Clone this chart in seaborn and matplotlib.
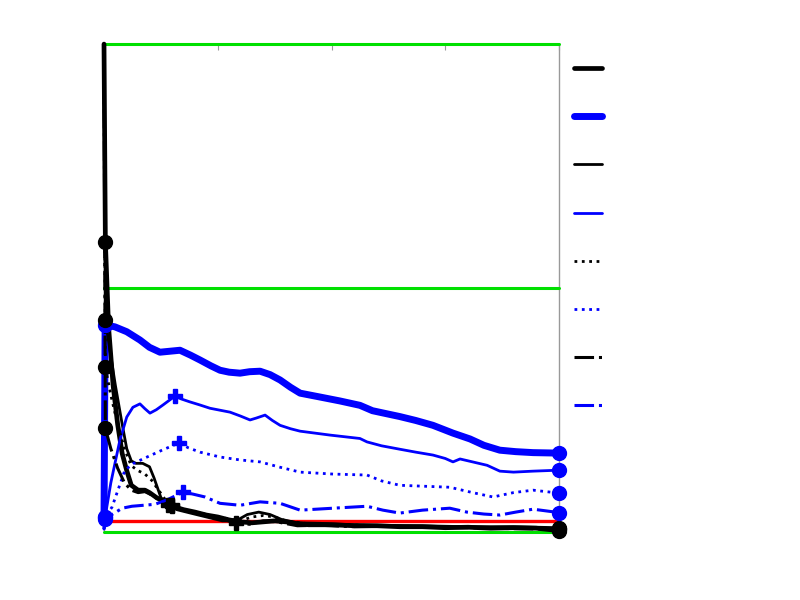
import numpy as np
import pandas as pd
import matplotlib
matplotlib.use("Agg")
import matplotlib.pyplot as plt
import seaborn as sns

# reference levels
green_levels = [0.0, 0.5, 1.0]
red_level = 0.0215
x_range = [0, 200]

# black series
k_thick_x = [0, 0.6, 2, 4, 6, 8, 10, 12, 15, 18, 20, 23, 26, 30, 35, 40, 45, 50, 55, 60,
             65, 70, 75, 80, 85, 90, 100, 110, 120, 130, 140, 150, 160, 170, 180, 190, 200]
k_thick_y = [1.0, 0.595, 0.42, 0.3, 0.22, 0.16, 0.125, 0.095, 0.085, 0.085, 0.08, 0.07, 0.062,
             0.052, 0.045, 0.04, 0.034, 0.03, 0.024, 0.02, 0.018, 0.02, 0.022, 0.02, 0.016, 0.014,
             0.014, 0.012, 0.012, 0.01, 0.01, 0.008, 0.009, 0.007, 0.008, 0.007, 0.002]

k_thin_x = [0, 0.6, 3, 5, 8, 10, 12, 14, 17, 20, 22, 25, 28, 32, 38, 45, 52, 58, 63, 68, 73,
            78, 85, 95, 105, 120, 140, 160, 180, 200]
k_thin_y = [1.0, 0.434, 0.36, 0.3, 0.22, 0.17, 0.145, 0.14, 0.14, 0.133, 0.11, 0.07, 0.055,
            0.045, 0.038, 0.03, 0.022, 0.022, 0.035, 0.04, 0.035, 0.025, 0.018, 0.017, 0.015,
            0.013, 0.012, 0.01, 0.01, 0.008]

k_dot_x = [0, 0.6, 3, 6, 9, 12, 15, 18, 21, 24, 27, 30, 35, 40, 50, 60, 65, 70, 75, 80, 90,
           100, 120, 140, 160, 180, 200]
k_dot_y = [1.0, 0.337, 0.28, 0.22, 0.17, 0.135, 0.125, 0.118, 0.105, 0.085, 0.065, 0.055,
           0.045, 0.04, 0.03, 0.022, 0.03, 0.033, 0.03, 0.022, 0.016, 0.015, 0.012, 0.01,
           0.009, 0.008, 0.006]

k_dash_x = [0, 0.6, 3, 6, 9, 12, 15, 18, 21, 25, 29, 33, 40, 50, 58, 64, 70, 76, 85, 95,
            110, 125, 140, 160, 180, 200]
k_dash_y = [1.0, 0.212, 0.17, 0.13, 0.1, 0.085, 0.08, 0.082, 0.075, 0.062, 0.052, 0.046, 0.04,
            0.028, 0.018, 0.015, 0.022, 0.02, 0.012, 0.013, 0.01, 0.011, 0.009, 0.008, 0.006,
            0.005]

# blue series
b_thick_x = [0, 0.5, 4.8, 10, 15.8, 20, 24.6, 29, 33.4, 38, 42.2, 47, 51, 55, 59.8, 64,
             68.6, 73, 77.4, 82, 86.2, 95, 103.7, 112.5, 118, 124, 130, 137, 144.6, 149,
             153.4, 160.9, 167, 174, 181, 188.6, 200]
b_thick_y = [0.02, 0.424, 0.42, 0.41, 0.393, 0.378, 0.368, 0.37, 0.372, 0.362, 0.352, 0.34,
             0.331, 0.327, 0.325, 0.328, 0.329, 0.322, 0.311, 0.296, 0.284, 0.276, 0.268, 0.259,
             0.248, 0.242, 0.236, 0.228, 0.218, 0.21, 0.202, 0.19, 0.177, 0.167, 0.164, 0.162,
             0.161]

b_thin_x = [0, 0.5, 3, 7, 10, 12.7, 15.8, 18, 20.2, 23, 26, 31.2, 34, 37.8, 42, 46.6, 51,
            55.4, 60, 64.2, 67, 70.8, 74, 77.4, 82, 86.2, 99.3, 112.5, 115.6, 122, 130, 137,
            144.6, 150, 153.4, 156.5, 162, 168.4, 174, 180, 188.6, 200]
b_thin_y = [0.005, 0.03, 0.1, 0.188, 0.235, 0.255, 0.262, 0.252, 0.243, 0.25, 0.26, 0.278,
            0.272, 0.266, 0.26, 0.253, 0.249, 0.245, 0.237, 0.229, 0.233, 0.239, 0.228, 0.218,
            0.211, 0.206, 0.198, 0.191, 0.184, 0.176, 0.169, 0.163, 0.157, 0.15, 0.143, 0.149,
            0.143, 0.136, 0.124, 0.122, 0.124, 0.126]

b_dot_x = [0, 0.5, 3.5, 9.2, 13, 18, 25.5, 33, 37, 42.2, 51, 59.8, 68.6, 77.4, 86.2, 100.7,
           115.6, 122, 130, 152, 162, 171, 180, 188.6, 200]
b_dot_y = [0.005, 0.03, 0.05, 0.126, 0.14, 0.151, 0.167, 0.182, 0.172, 0.163, 0.153, 0.147,
           0.143, 0.132, 0.122, 0.118, 0.116, 0.104, 0.095, 0.091, 0.08, 0.071, 0.08, 0.085,
           0.079]

b_dash_x = [0, 0.5, 1.8, 8, 12.3, 22.4, 27.7, 34.7, 39, 44.4, 51, 59.8, 68.6, 77.4, 86.2,
            100.7, 115.6, 122.6, 130, 140, 152, 159.5, 167, 174, 181, 188.6, 200]
b_dash_y = [0.005, 0.025, 0.03, 0.048, 0.052, 0.056, 0.065, 0.081, 0.077, 0.071, 0.058,
            0.054, 0.061, 0.058, 0.044, 0.048, 0.052, 0.044, 0.038, 0.044, 0.048, 0.04, 0.036,
            0.034, 0.04, 0.046, 0.039]

series = [
    (k_thick_x, k_thick_y, 'black', 3.4, '-', 13),
    (b_thick_x, b_thick_y, 'blue', 5.0, '-', None),
    (k_thin_x, k_thin_y, 'black', 2.0, '-', 12),
    (b_thin_x, b_thin_y, 'blue', 2.0, '-', 11),
    (k_dot_x, k_dot_y, 'black', 2.0, ':', 11),
    (b_dot_x, b_dot_y, 'blue', 2.0, ':', 7),
    (k_dash_x, k_dash_y, 'black', 2.2, '-.', 14),
    (b_dash_x, b_dash_y, 'blue', 2.2, '-.', 7),
]

sns.set_style('white')
fig = plt.figure(figsize=(8, 6), dpi=100)
ax = fig.add_axes([0.13, 0.114, 0.56875, 0.8125])

for lvl in green_levels:
    sns.lineplot(x=x_range, y=[lvl, lvl], ax=ax, color='#00e000', lw=2.2, zorder=2.6,
                 clip_on=False)
sns.lineplot(x=x_range, y=[red_level, red_level], ax=ax, color='red', lw=2.4, zorder=2.7)

handles = []
for xs, ys, col, lw, ls, plus_idx in series:
    df = pd.DataFrame({'x': xs, 'y': ys})
    sns.lineplot(data=df, x='x', y='y', ax=ax, color=col, lw=lw, linestyle=ls,
                 sort=False, zorder=3, clip_on=False)
    line = ax.lines[-1]
    handles.append(line)
    # circle markers at second and last sample
    ends = df.iloc[[1, len(df) - 1]]
    ax.plot(ends['x'], ends['y'], 'o', color=col, ms=10, zorder=4, clip_on=False)
    if plus_idx is not None:
        p = df.iloc[[plus_idx]]
        ax.plot(p['x'], p['y'], 'P', color=col, ms=10, zorder=4)

ax.set_xlim(0, 200)
ax.set_ylim(0, 1)
ax.set_xticks([0, 50, 100, 150, 200])
ax.set_yticks([0, 0.5, 1])
ax.tick_params(direction='in', length=4, color='#999999', top=True, right=True,
               labelbottom=False, labelleft=False)
ax.set_xlabel('')
ax.set_ylabel('')
for sp in ax.spines.values():
    sp.set_color('#999999')
    sp.set_linewidth(1)

fig.legend(handles, [' '] * len(handles), loc='upper left', bbox_to_anchor=(0.702, 0.917),
           frameon=False, handlelength=2.0, labelspacing=2.45, fontsize=10)

fig.savefig('out.png', dpi=100)
